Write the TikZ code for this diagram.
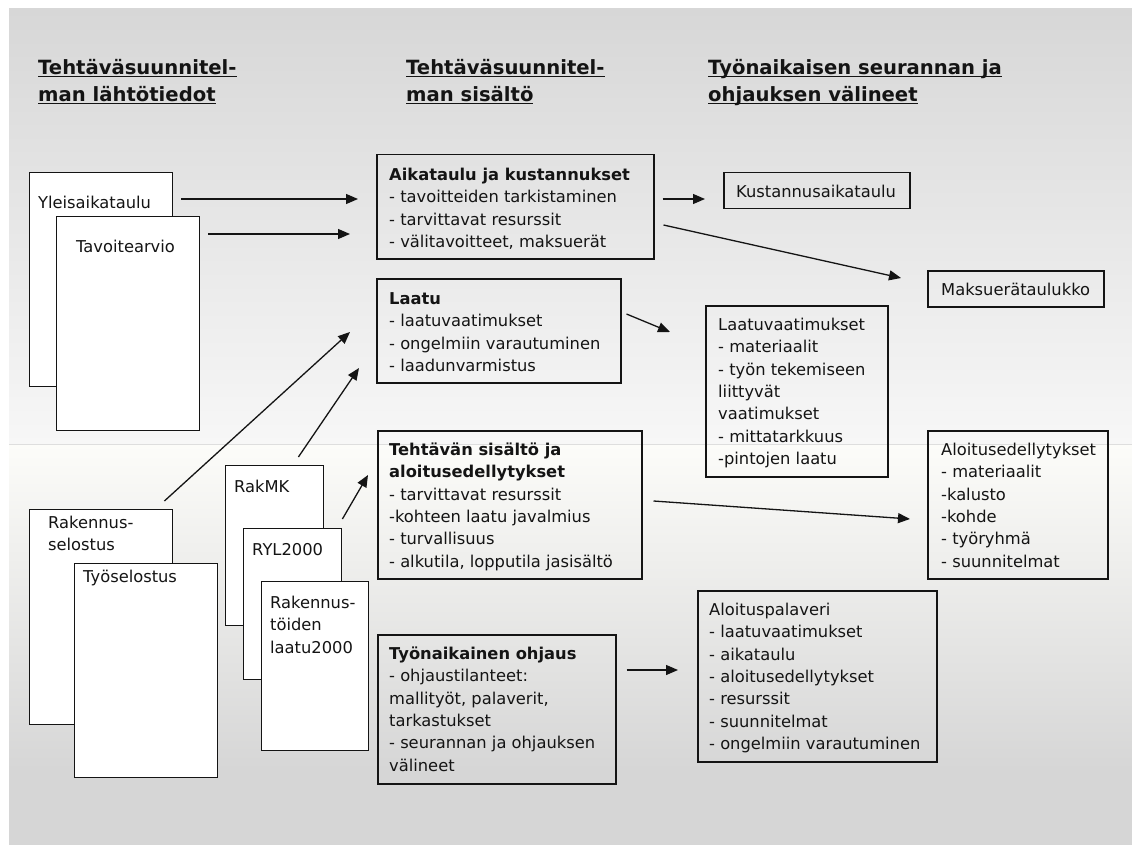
\documentclass[tikz,border=0pt]{standalone}
\usepackage{fontspec}
\setmainfont{DejaVu Sans}
\usetikzlibrary{arrows.meta,calc}

\definecolor{ink}{HTML}{141414}
\definecolor{bgtop}{HTML}{D7D7D7}
\definecolor{bgmid}{HTML}{F7F7F7}
\definecolor{bglow}{HTML}{FCFCF9}
\definecolor{bgbot}{HTML}{D6D6D6}
\definecolor{seam}{HTML}{DEDEDE}

% underline at a fixed depth below the baseline, crossing descenders
\newcommand{\hdrline}[1]{\setbox0\hbox{#1}\rlap{\vrule height -1.6pt depth 3.2pt width \wd0}\box0}
% fixes the first baseline 14pt (headers: 18pt) below the top of a text node
\newcommand{\topstrut}{\vrule height 14pt width 0pt}
\newcommand{\hdrstrut}{\vrule height 18pt width 0pt}

\tikzset{
  doc/.style={draw=ink, line width=1.4pt, fill=white, anchor=north west, inner sep=0pt},
  panel/.style={draw=ink, line width=1.5pt, anchor=north west, inner sep=0pt},
  txt/.style={anchor=north west, inner sep=0pt, align=left, text=ink,
    font=\fontsize{16.3}{22.4}\selectfont},
  hdr/.style={anchor=north west, inner sep=0pt, align=left, text=ink,
    font=\fontsize{19.6}{27}\selectfont\bfseries},
  arr/.style={draw=ink, line width=1.3pt, -{Triangle[length=12pt,width=10pt]}},
}

\begin{document}
\begin{tikzpicture}[x=1pt, y=-1pt]
\useasboundingbox (0,0) rectangle (1132,845);

% background panel
\fill[white] (0,0) rectangle (1132,845);
\shade[top color=bgtop, bottom color=bgmid] (9,9) rectangle (1132,444.5);
\shade[top color=bglow, bottom color=bgbot] (9,444.5) rectangle (1132,770);
\fill[bgbot] (9,769.5) rectangle (1132,845);
\draw[seam, line width=0.8pt] (9,444.5) -- (1132,444.5);

% column headers
\node[hdr] (h1) at (38,56) {\hdrstrut\hdrline{Tehtäväsuunnitel-}\\\hdrline{man lähtötiedot}};
\node[hdr] (h2) at (406,56) {\hdrstrut\hdrline{Tehtäväsuunnitel-}\\\hdrline{man sisältö}};
\node[hdr] (h3) at (708,56) {\hdrstrut\hdrline{Työnaikaisen seurannan ja}\\\hdrline{ohjauksen välineet}};

% source documents
\node[doc, minimum width=143pt, minimum height=214pt] (ylei) at (29,172) {};
\node[txt] (yleit) at (38,194) {\topstrut Yleisaikataulu};
\node[doc, minimum width=143pt, minimum height=214pt] (tavo) at (56,216) {};
\node[txt] (tavot) at (76,238) {\topstrut Tavoitearvio};

\node[doc, minimum width=143pt, minimum height=215pt] (rakse) at (29,509) {};
\node[txt] (rakset) at (48,514) {\topstrut Rakennus-\\selostus};
\node[doc, minimum width=143pt, minimum height=214pt] (tyose) at (74,563) {};
\node[txt] (tyoset) at (83,568) {\topstrut Työselostus};

\node[doc, minimum width=98pt, minimum height=160pt] (rakmk) at (225,465) {};
\node[txt] (rakmkt) at (234,478) {\topstrut RakMK};
\node[doc, minimum width=98pt, minimum height=151pt] (ryl) at (243,528) {};
\node[txt] (rylt) at (252,541) {\topstrut RYL2000};
\node[doc, minimum width=107pt, minimum height=169pt] (rkt) at (261,581) {};
\node[txt] (rktt) at (270,594) {\topstrut Rakennus-\\töiden\\laatu2000};

% plan content
\node[panel, minimum width=277pt, minimum height=104pt] (aik) at (376,154) {};
\node[txt] (aikt) at (389,166) {\topstrut\textbf{Aikataulu ja kustannukset}\\- tavoitteiden tarkistaminen\\- tarvittavat resurssit\\- välitavoitteet, maksuerät};

\node[panel, minimum width=244pt, minimum height=104pt] (laatu) at (376,278) {};
\node[txt] (laatut) at (389,290) {\topstrut\textbf{Laatu}\\- laatuvaatimukset\\- ongelmiin varautuminen\\- laadunvarmistus};

\node[panel, minimum width=264pt, minimum height=148pt] (teht) at (377,430) {};
\node[txt] (tehtt) at (389,441) {\topstrut\textbf{Tehtävän sisältö ja}\\\textbf{aloitusedellytykset}\\- tarvittavat resurssit\\-kohteen laatu javalmius\\- turvallisuus\\- alkutila, lopputila jasisältö};

\node[panel, minimum width=238pt, minimum height=149pt] (tyon) at (377,634) {};
\node[txt] (tyont) at (389,645) {\topstrut\textbf{Työnaikainen ohjaus}\\- ohjaustilanteet:\\mallityöt, palaverit,\\tarkastukset\\- seurannan ja ohjauksen\\välineet};

% monitoring and control tools
\node[panel, minimum width=186pt, minimum height=36pt] (kust) at (723,172) {};
\node[txt] (kustt) at (736,183) {\topstrut Kustannusaikataulu};

\node[panel, minimum width=176pt, minimum height=36pt] (maks) at (927,270) {};
\node[txt] (makst) at (941,281) {\topstrut Maksuerätaulukko};

\node[panel, minimum width=182pt, minimum height=171pt] (laatuv) at (705,305) {};
\node[txt] (laatuvt) at (718,316) {\topstrut Laatuvaatimukset\\- materiaalit\\- työn tekemiseen\\liittyvät\\vaatimukset\\- mittatarkkuus\\-pintojen laatu};

\node[panel, minimum width=180pt, minimum height=148pt] (aloit) at (927,430) {};
\node[txt] (aloitt) at (941,441) {\topstrut Aloitusedellytykset\\- materiaalit\\-kalusto\\-kohde\\- työryhmä\\- suunnitelmat};

\node[panel, minimum width=239pt, minimum height=171pt] (palav) at (697,590) {};
\node[txt] (palavt) at (709,601) {\topstrut Aloituspalaveri\\- laatuvaatimukset\\- aikataulu\\- aloitusedellytykset\\- resurssit\\- suunnitelmat\\- ongelmiin varautuminen};

% connectors
\draw[arr] ($(ylei.north east)+(8,27)$) -- ($(aik.north west)+(-18,45)$);
\draw[arr] ($(tavo.north east)+(8,18)$) -- ($(aik.north west)+(-26,80)$);
\draw[arr] ($(rakse.north east)+(-9,-8)$) -- ($(laatu.north west)+(-26,54)$);
\draw[arr] ($(rakmk.north east)+(-26,-8)$) -- ($(laatu.north west)+(-17,90)$);
\draw[arr] ($(ryl.north east)+(0,-9)$) -- ($(teht.north west)+(-9,45)$);
\draw[arr] ($(aik.north east)+(8,45)$) -- ($(kust.north west)+(-18,27)$);
\draw[arr] ($(aik.north east)+(9,71)$) -- ($(maks.north west)+(-26,8)$);
\draw[arr] ($(laatu.north east)+(5,36)$) -- ($(laatuv.north west)+(-35,27)$);
\draw[arr] ($(teht.north east)+(11,71)$) -- ($(aloit.north west)+(-17,89)$);
\draw[arr] ($(tyon.north east)+(10,36)$) -- ($(palav.north west)+(-19,80)$);
\end{tikzpicture}
\end{document}
